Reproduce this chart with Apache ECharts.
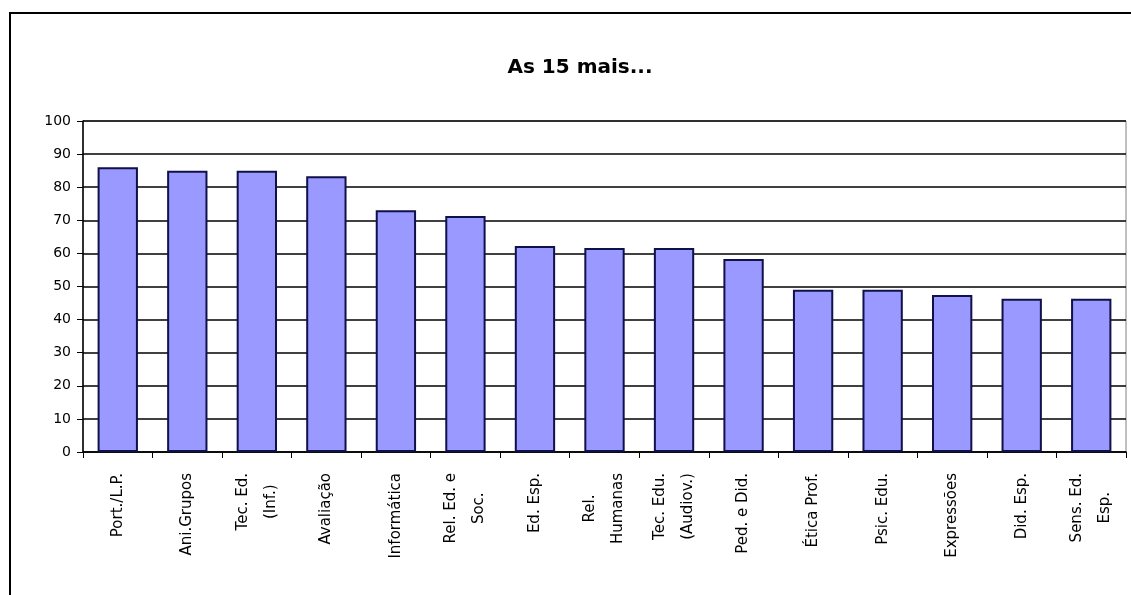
<!DOCTYPE html>
<html>
<head>
<meta charset="utf-8">
<script src="https://cdn.jsdelivr.net/npm/echarts@6/dist/echarts.min.js"></script>
<style>
html,body{margin:0;padding:0;background:#fff;}
#chart{width:1131px;height:595px;}
</style>
</head>
<body>
<div id="chart"></div>
<script>
var titleText = 'As 15 mais...';
var categories = ['Port./L.P.', 'Ani.Grupos', 'Tec. Ed.\n(Inf.)', 'Avaliação', 'Informática', 'Rel. Ed. e\nSoc.', 'Ed. Esp.', 'Rel.\nHumanas', 'Tec. Edu.\n(Audiov.)', 'Ped. e Did.', 'Ética Prof.', 'Psic. Edu.', 'Expressões', 'Did. Esp.', 'Sens. Ed.\nEsp.'];
var values = [86, 85, 85, 83.3, 73, 71.3, 62.2, 61.6, 61.6, 58.3, 49, 49, 47.4, 46.3, 46.3];
var yMin = 0, yMax = 100, yStep = 10;

var chart = echarts.init(document.getElementById('chart'));
chart.setOption({
  backgroundColor: '#fff',
  animation: false,
  title: {
    text: titleText,
    left: 575, top: 53, textAlign: 'center',
    textStyle: {fontFamily: 'DejaVu Sans', fontWeight: 'bold', fontSize: 20, color: '#000'}
  },
  graphic: [{
    type: 'rect', shape: {x: 10, y: 13, width: 1140, height: 600},
    style: {fill: 'none', stroke: '#000', lineWidth: 2}, silent: true
  }],
  grid: {left: 83, right: 5, top: 121, bottom: 143, show: true, borderColor: '#808080', borderWidth: 1, backgroundColor: '#fff'},
  xAxis: {
    type: 'category', data: categories, boundaryGap: true,
    axisLine: {lineStyle: {color: '#000', width: 1.5}},
    axisTick: {show: true, length: 6, alignWithLabel: false, interval: 0, lineStyle: {color: '#000'}},
    axisLabel: {
      interval: 0, rotate: 90, margin: 21, color: '#000',
      formatter: function (v) {
        return v.split('\n').map(function (s) { return '{c|' + s + '}'; }).join('\n');
      },
      rich: {c: {align: 'center', fontFamily: 'DejaVu Sans', fontSize: 15, lineHeight: 28, color: '#000'}}
    }
  },
  yAxis: {
    type: 'value', min: yMin, max: yMax, interval: yStep,
    axisLine: {show: true, lineStyle: {color: '#000', width: 1.5}},
    axisTick: {show: true, length: 6, lineStyle: {color: '#000'}},
    axisLabel: {margin: 12, fontFamily: 'DejaVu Sans', fontSize: 14, color: '#000'},
    splitLine: {show: true, lineStyle: {color: '#000', width: 1.6}}
  },
  series: [{
    type: 'bar', data: values, barCategoryGap: '42%',
    itemStyle: {color: '#9999FF', borderColor: '#10104a', borderWidth: 2}
  }]
});
</script>
</body>
</html>
